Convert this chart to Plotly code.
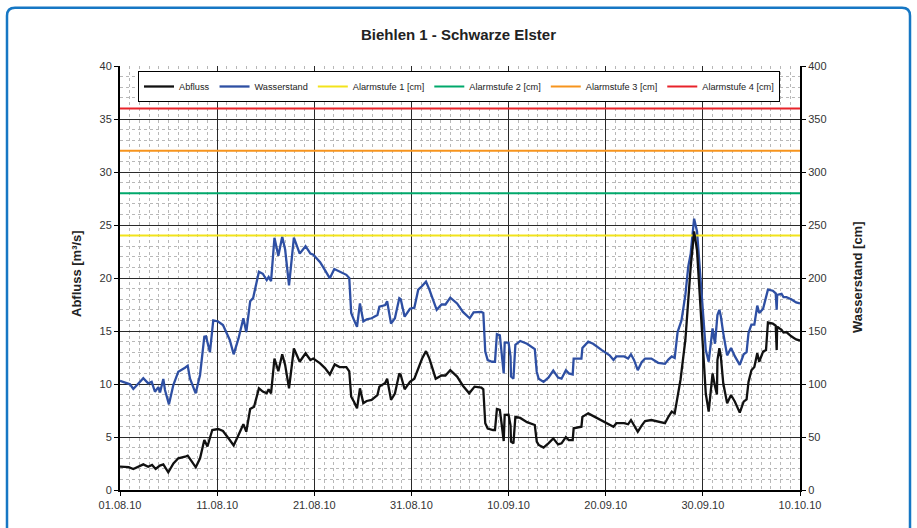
import pandas as pd
import plotly.graph_objects as go

# ---------------- data ----------------
start_date = "2010-08-01"
end_date = "2010-10-10"

# Abfluss [m³/s] : days since 01.08.2010 and values
abfluss_days = [0.0, 0.9, 1.37, 1.9, 2.4, 2.9, 3.3, 3.67, 4.1, 4.46, 4.97, 5.5, 6.0, 6.7, 6.97, 7.4, 7.8,
                8.24, 8.68, 9.0, 9.5, 10.1, 10.6, 11.3, 11.7, 12.2, 12.7, 13.0, 13.4, 13.8, 14.3, 14.7,
                15.1, 15.3, 15.55, 15.9, 16.3, 16.7, 17.0, 17.4, 17.9, 18.5, 19.1, 19.6, 19.9, 20.6,
                21.1, 21.6, 22.1, 22.6, 23.3, 23.6, 23.8, 24.1, 24.4, 24.7, 25.05, 25.4, 25.9, 26.5,
                26.7, 27.3, 27.5, 27.9, 28.3, 28.75, 28.9, 29.3, 29.85, 30.3, 30.8, 31.1, 31.5, 31.85,
                32.5, 33.1, 33.5, 34.0, 34.7, 35.3, 35.95, 36.5, 37.2, 37.4, 37.6, 37.85, 38.4, 38.6,
                38.8, 39.1, 39.3, 39.5, 39.6, 40.0, 40.2, 40.25, 40.5, 40.7, 41.2, 41.9, 42.7, 42.9,
                43.1, 43.6, 44.1, 44.6, 45.1, 45.45, 45.9, 46.2, 46.6, 46.7, 47.5, 47.6, 48.2, 48.7,
                49.6, 50.4, 50.8, 51.1, 51.9, 52.3, 52.6, 52.9, 53.3, 53.7, 54.05, 54.7, 55.4, 56.1,
                56.45, 56.8, 57.1, 57.4, 57.7, 58.2, 58.5, 58.75, 58.95, 59.1, 59.4, 59.7, 60.05,
                60.3, 60.6, 60.9, 61.0, 61.25, 61.45, 61.5, 61.7, 61.85, 62.1, 62.5, 62.9, 63.3,
                63.8, 64.2, 64.5, 64.7, 65.0, 65.3, 65.6, 65.8, 66.2, 66.5, 66.7, 67.2, 67.5, 67.6,
                67.65, 68.1, 68.3, 68.6, 69.1, 69.6, 70.0]
abfluss_m3s = [2.2, 2.15, 1.98, 2.2, 2.42, 2.2, 2.36, 1.98, 2.3, 2.42, 1.67, 2.5, 2.99, 3.14, 3.24, 2.67,
               2.14, 2.99, 4.72, 4.1, 5.66, 5.75, 5.56, 4.72, 4.2, 5.19, 6.2, 5.5, 7.64, 7.86, 9.59,
               9.28, 9.12, 9.5, 9.12, 12.4, 11.2, 12.8, 11.8, 9.6, 13.35, 12.1, 12.9, 12.26, 12.4,
               11.95, 11.5, 10.9, 11.85, 11.6, 11.6, 11.2, 8.8, 8.3, 7.7, 9.59, 8.2, 8.4, 8.5, 8.96,
               9.75, 10.1, 10.5, 8.5, 9.1, 11.0, 10.85, 9.5, 10.2, 10.5, 11.8, 12.4, 13.1, 12.4,
               10.5, 10.8, 10.8, 11.3, 10.7, 9.84, 9.12, 9.75, 9.65, 9.5, 6.3, 5.8, 5.66, 5.66,
               7.64, 7.55, 6.13, 4.62, 7.08, 7.1, 6.1, 4.56, 4.4, 6.9, 6.8, 6.4, 6.13, 4.56,
               4.25, 4.0, 4.4, 4.87, 4.3, 4.4, 5.0, 4.7, 4.7, 5.82, 5.97, 6.9, 7.23, 7.0,
               6.6, 6.2, 5.97, 6.3, 6.3, 6.2, 6.6, 6.13, 5.5, 6.07, 6.5, 6.6, 6.45, 6.3,
               6.9, 7.4, 7.23, 8.8, 10.4, 14.15, 18.55, 21.07, 22.95, 24.4, 22.6, 17.9, 12.6,
               9.1, 7.4, 10.07, 11.0, 9.78, 9.0, 12.26, 13.37, 12.6, 10.07, 8.18, 8.96, 8.33,
               7.3, 8.33, 8.55, 10.2, 11.3, 11.6, 12.9, 12.1, 13.05, 13.2, 15.8, 15.7, 15.5, 13.2,
               15.4, 15.1, 14.85, 14.9, 14.5, 14.2, 14.1]

# Wasserstand [cm] : days since 01.08.2010 and values
wasser_days = [0.0, 1.03, 1.37, 1.7, 2.4, 2.9, 3.26, 3.6, 3.95, 4.12, 4.46, 4.63, 5.04, 5.49, 6.0, 6.69,
               6.97, 7.2, 7.79, 8.24, 8.68, 8.85, 9.26, 9.6, 10.1, 10.6, 11.3, 11.7, 12.2, 12.7, 13.0,
               13.4, 13.7, 14.3, 14.7, 15.1, 15.3, 15.55, 15.9, 16.3, 16.7, 17.0, 17.4, 17.9, 18.5,
               19.1, 19.6, 19.9, 20.6, 21.1, 21.6, 22.06, 22.6, 23.3, 23.6, 23.8, 24.1, 24.4, 24.7,
               25.05, 25.4, 25.9, 26.5, 26.7, 27.3, 27.5, 27.9, 28.3, 28.75, 28.9, 29.3, 29.85, 30.3,
               30.7, 31.05, 31.5, 31.85, 32.6, 33.1, 33.5, 34.0, 34.7, 35.3, 36.0, 36.4, 37.2, 37.4,
               37.6, 37.85, 38.3, 38.6, 38.8, 39.1, 39.3, 39.5, 39.6, 40.0, 40.2, 40.25, 40.5, 40.7,
               41.2, 41.9, 42.7, 42.9, 43.1, 43.6, 44.1, 44.6, 45.1, 45.45, 45.9, 46.2, 46.6, 46.7,
               47.5, 47.6, 48.2, 48.7, 49.6, 50.4, 50.8, 51.1, 51.9, 52.3, 52.6, 52.9, 53.3, 53.7,
               54.05, 54.7, 55.4, 56.1, 56.45, 56.8, 57.1, 57.4, 57.8, 58.2, 58.5, 58.75, 58.95,
               59.1, 59.4, 59.7, 60.05, 60.3, 60.6, 60.9, 61.0, 61.25, 61.5, 61.7, 61.85, 62.1,
               62.5, 62.9, 63.3, 63.8, 64.2, 64.5, 64.7, 65.0, 65.3, 65.6, 65.8, 66.2, 66.5, 66.7,
               67.2, 67.5, 67.6, 67.65, 68.1, 68.3, 68.6, 69.1, 69.6, 70.0]
wasser_cm = [103, 99.7, 95.3, 98.4, 105.4, 100.6, 102, 92.7, 97, 92, 104.7, 94.3, 80.8, 99, 111.6, 115.4,
             117.3, 105.3, 91.2, 108.5, 144.7, 145, 130, 160, 159, 155.7, 141.5, 128, 143, 162, 149,
             178, 181, 206, 204, 198, 201, 197, 238, 221, 239, 227, 193, 238, 223,
             230, 223, 222, 215, 207.5, 199.7, 208.5, 206, 203, 200, 167, 160, 154, 176,
             159, 161, 162, 165, 173, 174.5, 178, 157, 162, 181, 180, 163.5, 171, 172,
             189, 192, 196.5, 189, 170, 175, 175, 181.5, 176, 168, 162, 167.6, 168, 167,
             130.5, 122.6, 121, 121, 147, 146, 130, 110, 139, 139, 126, 107, 105, 137,
             140.6, 138, 133, 111.6, 105, 102, 106, 112.6, 106, 105, 113, 110, 109, 124,
             124, 134, 140, 138, 132, 127, 122.6, 126, 126, 124, 128, 123, 113, 120.5,
             124, 124, 120, 119, 123, 126, 124.5, 149, 160, 184, 211, 223, 242,
             256, 244, 207.5, 163.5, 132, 121, 148, 152.5, 138, 165, 170, 164, 148,
             127, 134, 126, 118, 128, 130, 148, 156, 156, 174, 167, 171, 182, 189,
             188, 185.5, 170, 184, 185, 182, 182, 180, 177, 176]

alarm_names = ["Alarmstufe 1 [cm]", "Alarmstufe 2 [cm]", "Alarmstufe 3 [cm]", "Alarmstufe 4 [cm]"]
alarm_levels_cm = [240, 280, 320, 360]
alarm_colors = ["#F2E31B", "#00A86B", "#F7941D", "#E8232A"]

# ---------------- figure ----------------
base = pd.Timestamp(start_date)
abfluss_x = base + pd.to_timedelta(abfluss_days, unit="D")
wasser_x = base + pd.to_timedelta(wasser_days, unit="D")

FONT = "Liberation Sans, Arial, sans-serif"
fig = go.Figure()

# empty trace anchoring the base (left) axis so the overlay axes render properly
fig.add_trace(go.Scatter(x=[], y=[], mode="lines", yaxis="y", showlegend=False, hoverinfo="skip"))
fig.add_trace(go.Scatter(x=abfluss_x, y=abfluss_m3s, mode="lines", name="Abfluss",
                         line=dict(color="#111111", width=2.3), yaxis="y3"))
fig.add_trace(go.Scatter(x=wasser_x, y=wasser_cm, mode="lines", name="Wasserstand",
                         line=dict(color="#2E4FA3", width=2.3), yaxis="y2"))
for name, lvl, col in zip(alarm_names, alarm_levels_cm, alarm_colors):
    fig.add_trace(go.Scatter(x=[start_date, end_date], y=[lvl, lvl], mode="lines", name=name,
                             line=dict(color=col, width=2), yaxis="y2", hoverinfo="skip"))

L, R, T, B = 120, 800, 66, 490
W, H = 917, 528
pw, ph = R - L, B - T


def px(x):
    return (x - L) / pw


def py(y):
    return (B - y) / ph


# rounded border around the figure
x0, x1, y0, y1 = px(7), px(910), py(548), py(7.7)
rx, ry = 8 / pw, 8 / ph
path = (f"M {x0+rx},{y1} L {x1-rx},{y1} Q {x1},{y1} {x1},{y1-ry} "
        f"L {x1},{y0+ry} Q {x1},{y0} {x1-rx},{y0} L {x0+rx},{y0} Q {x0},{y0} {x0},{y0+ry} "
        f"L {x0},{y1-ry} Q {x0},{y1} {x0+rx},{y1} Z")

minor_grid = dict(showgrid=True, gridcolor="#b8b8b8", griddash="dot", gridwidth=1)

fig.update_layout(
    width=W, height=H, autosize=False,
    margin=dict(l=L, r=W - R, t=T, b=H - B),
    paper_bgcolor="white", plot_bgcolor="white",
    font=dict(family=FONT, size=11, color="#333333"),
    title=dict(text="<b>Biehlen 1 - Schwarze Elster</b>", x=0.5, xref="container",
               y=1 - 35 / H, yref="container", yanchor="middle",
               font=dict(family=FONT, size=15, color="#222222")),
    showlegend=True,
    legend=dict(orientation="h", x=px(459), xanchor="center", y=py(71), yanchor="top",
                bgcolor="white", bordercolor="#000000", borderwidth=1,
                font=dict(family=FONT, size=9.2, color="#222222"),
                traceorder="normal", itemwidth=30),
    xaxis=dict(type="date", range=[start_date, end_date], tick0=start_date,
               dtick=10 * 86400000, tickformat="%d.%m.%y", ticks="outside", ticklen=4,
               tickcolor="#000", showline=True, linecolor="#000", linewidth=2,
               showgrid=True, gridcolor="#2a2a2a", gridwidth=1, zeroline=False,
               minor=dict(dtick=86400000, tick0=start_date, **minor_grid),
               tickfont=dict(size=11, color="#333")),
    yaxis=dict(range=[0, 40], dtick=5, ticks="outside", ticklen=4, tickcolor="#000",
               showline=True, linecolor="#000", linewidth=2, showgrid=True,
               gridcolor="#2a2a2a", gridwidth=1, zeroline=False,
               minor=dict(dtick=1, **minor_grid),
               tickfont=dict(size=11, color="#333")),
    yaxis2=dict(range=[0, 400], dtick=50, overlaying="y", side="right", ticks="outside",
                ticklen=4, tickcolor="#000", showline=True, linecolor="#000", linewidth=2,
                showgrid=False, zeroline=False, tickfont=dict(size=11, color="#333")),
    yaxis3=dict(range=[0, 40], overlaying="y", side="left", showgrid=False, zeroline=False,
                showline=False, showticklabels=False, ticks=""),
    shapes=[dict(type="path", xref="paper", yref="paper", path=path,
                 line=dict(color="#1677C4", width=2.5), fillcolor="rgba(0,0,0,0)", layer="below")],
    annotations=[
        dict(text="<b>Abfluss [m³/s]</b>", x=px(76), y=py(274), xref="paper", yref="paper",
             xanchor="center", yanchor="middle",
             textangle=-90, showarrow=False, font=dict(family=FONT, size=13, color="#222")),
        dict(text="<b>Wasserstand [cm]</b>", x=px(857), y=py(277), xref="paper", yref="paper",
             xanchor="center", yanchor="middle",
             textangle=-90, showarrow=False, font=dict(family=FONT, size=13, color="#222")),
    ],
)

fig.write_html("out.html", config={"displayModeBar": False},
               post_script="document.body.style.margin='0';")
